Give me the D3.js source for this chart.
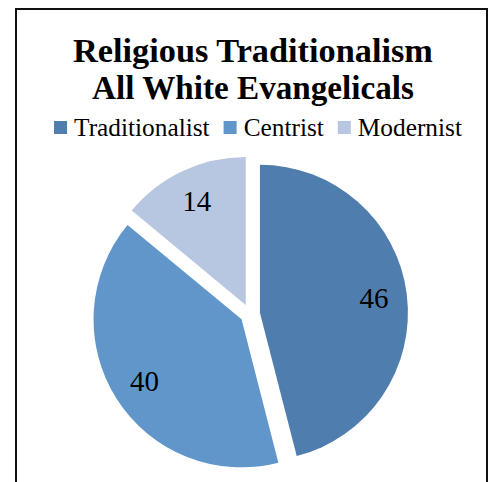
<!DOCTYPE html>
<html><head><meta charset="utf-8">
<script src="https://cdn.jsdelivr.net/npm/d3@7"></script>
<style>html,body{margin:0;padding:0;background:#fff;}svg{display:block;}</style>
</head><body>
<svg id="chart" width="490" height="482"></svg>
<script>
const titleLines = ["Religious Traditionalism", "All White Evangelicals"];
const categories = ["Traditionalist", "Centrist", "Modernist"];
const values = [46, 40, 14];
const colors = ["#4f7dad", "#6096c9", "#b8c7e1"];

const svg = d3.select("#chart");
const serif = "'Liberation Serif', 'Times New Roman', serif";

// frame
svg.append("rect").attr("x", 16).attr("y", 9).attr("width", 471).attr("height", 490)
  .attr("fill", "#fff").attr("stroke", "#111").attr("stroke-width", 2);

function fitSize(textSel, target) {
  const base = parseFloat(textSel.attr("font-size"));
  const w = textSel.node().getComputedTextLength();
  textSel.attr("font-size", base * target / w);
}

// title
const titleCx = 253;
const t1 = svg.append("text").attr("x", titleCx).attr("y", 62).attr("text-anchor", "middle")
  .attr("font-family", serif).attr("font-weight", "bold").attr("font-size", 32).attr("fill", "#000")
  .text(titleLines[0]);
fitSize(t1, 360);
const t2 = svg.append("text").attr("x", titleCx).attr("y", 99).attr("text-anchor", "middle")
  .attr("font-family", serif).attr("font-weight", "bold").attr("font-size", 32).attr("fill", "#000")
  .text(titleLines[1]);
fitSize(t2, 322);

// legend
const color = d3.scaleOrdinal().domain(categories).range(colors);
const legend = svg.append("g");
const sq = 13, gapText = 7, gapItem = 14, legendTextTarget = 320;
// measure at base size, then scale to target total text width
const probe = svg.append("text").attr("font-family", serif).attr("font-size", 20);
let totalW = 0;
categories.forEach(c => { probe.text(c); totalW += probe.node().getComputedTextLength(); });
probe.remove();
const legendFont = 20 * legendTextTarget / totalW;
let lx = 0;
categories.forEach((c, i) => {
  const g = legend.append("g");
  g.append("rect").attr("x", lx).attr("y", 121).attr("width", sq).attr("height", sq).attr("fill", color(c));
  const tx = g.append("text").attr("x", lx + sq + gapText).attr("y", 136)
    .attr("font-family", serif).attr("font-size", legendFont).attr("fill", "#000").text(c);
  lx += sq + gapText + tx.node().getComputedTextLength() + gapItem;
});
const legendWidth = lx - gapItem;
legend.attr("transform", `translate(${258 - legendWidth / 2},0)`);

// pie
const cx = 250, cy = 314, R = 148, explode = 10, labelR = 115;
const pie = d3.pie().sort(null).value(d => d.v);
const arcs = pie(categories.map((c, i) => ({ c, v: values[i] })));
const arc = d3.arc().innerRadius(0).outerRadius(R);
const labelArc = d3.arc().innerRadius(labelR).outerRadius(labelR);

const pg = svg.append("g").attr("transform", `translate(${cx},${cy})`);
const slices = pg.selectAll("g.slice").data(arcs).enter().append("g")
  .attr("transform", d => {
    const m = (d.startAngle + d.endAngle) / 2;
    return `translate(${explode * Math.sin(m)},${-explode * Math.cos(m)})`;
  });
slices.append("path").attr("d", arc).attr("fill", d => color(d.data.c));
slices.append("text")
  .attr("transform", d => `translate(${labelArc.centroid(d)})`)
  .attr("text-anchor", "middle").attr("dy", "0.35em")
  .attr("font-family", serif).attr("font-size", 29).attr("fill", "#000")
  .text(d => d.data.v);
</script>
</body></html>
